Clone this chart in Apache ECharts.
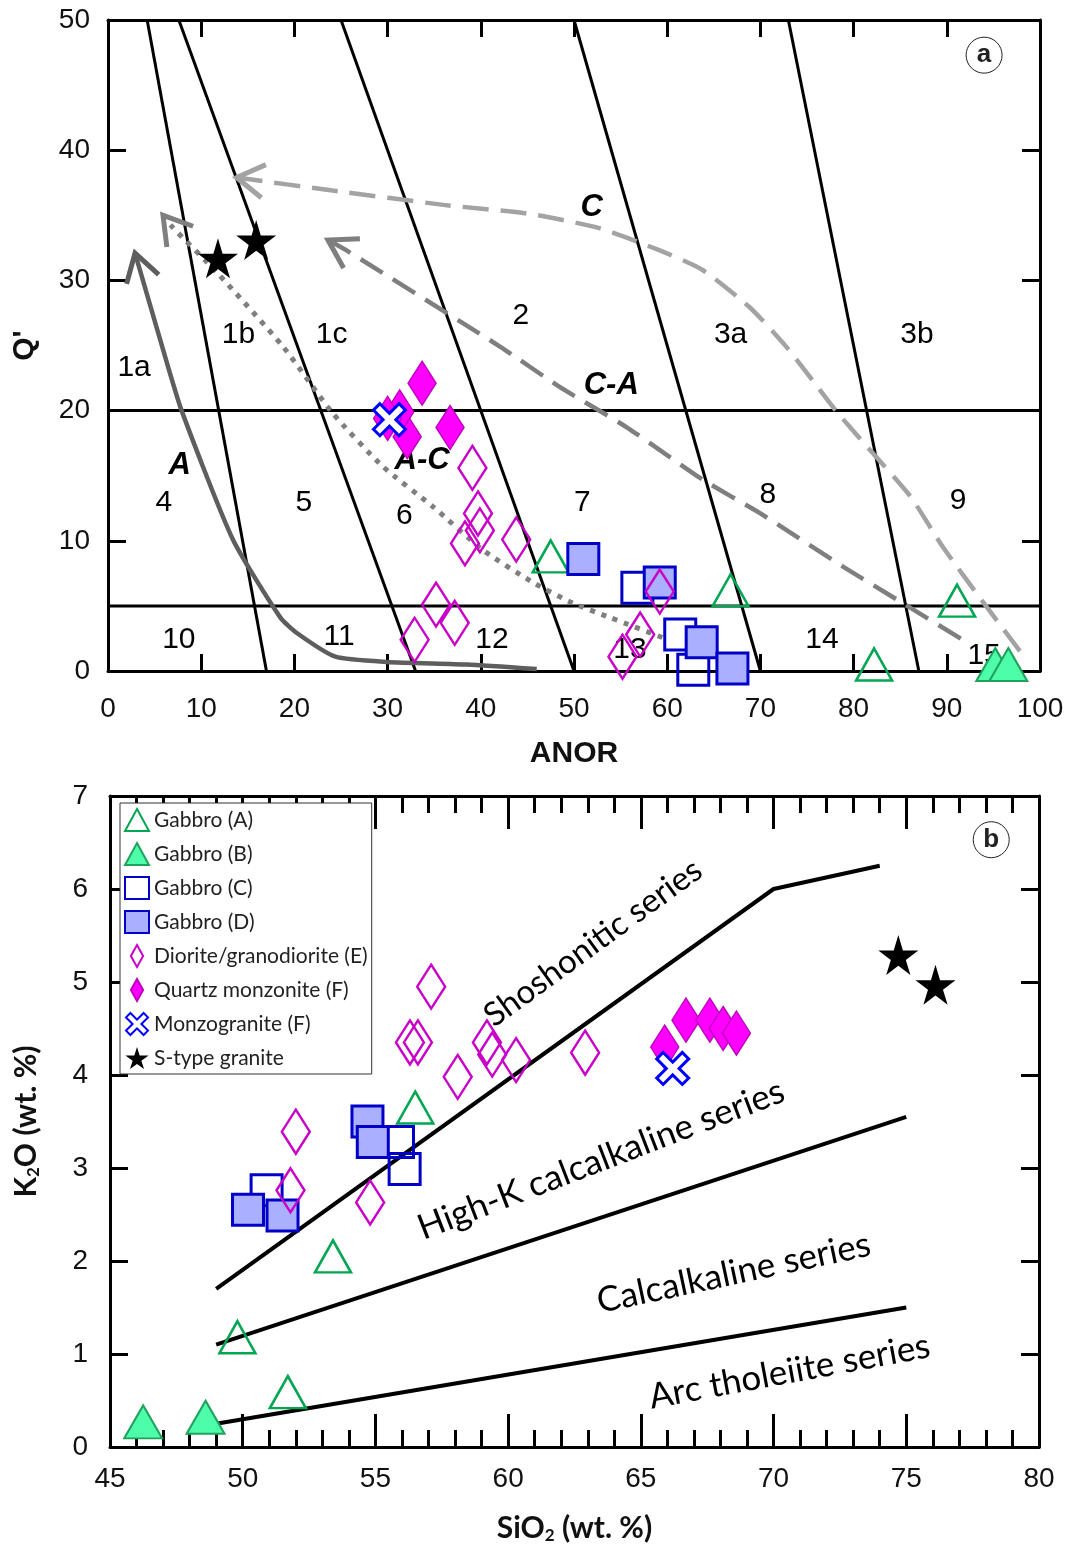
<!DOCTYPE html>
<html>
<head>
<meta charset="utf-8">
<script src="https://cdn.jsdelivr.net/npm/echarts@6/dist/echarts.min.js"></script>
<style>
  html, body { margin: 0; background: #fff; }
  #chart { width: 1071px; height: 1548px; }
</style>
</head>
<body>
<div id="chart"></div>
<script>
// ---------- panel (a): ANOR vs Q' ----------
// field boundaries (Streckeisen & Le Maitre)
const fieldLines = [
  [[4.2, 50], [17, 0]],
  [[7.6, 50], [33, 0]],
  [[25, 50], [50, 0]],
  [[50, 50], [70, 0]],
  [[73, 50], [87, 0]],
  [[0, 20], [100, 20]],
  [[0, 5], [100, 5]]
];
const fieldLabels = [
  ['1a', 2.8, 23.3], ['1b', 14, 25.8], ['1c', 24, 25.8], ['2', 44.3, 27.3],
  ['3a', 66.8, 25.8], ['3b', 86.8, 25.8], ['4', 6, 12.9], ['5', 21, 12.9],
  ['6', 31.8, 11.9], ['7', 50.9, 12.9], ['8', 70.8, 13.5], ['9', 91.2, 13.1],
  ['10', 7.6, 2.4], ['11', 24.8, 2.6], ['12', 41.2, 2.4], ['13', 56, 1.6],
  ['14', 76.6, 2.4], ['15', 94, 1.2]
];
const trendLabels = [['C', 51.9, 35.6], ['C-A', 54, 21.9], ['A', 7.7, 15.8], ['A-C', 33.7, 16.2]];

// trend curves, first point = arrow tip
const trendA = [[2.9, 32.1], [5.9, 24.7], [7.9, 20.0], [13.4, 10.1], [18.5, 4.1], [20.3, 2.9],
  [24.4, 1.1], [29.9, 0.7], [38.5, 0.5], [46.0, 0.15]];
const trendC = [[13.8, 37.9], [24.1, 36.9], [36.0, 35.8], [45.3, 35.1], [52.8, 34.0], [59.2, 32.3],
  [63.8, 30.8], [68.9, 27.9], [72.9, 24.8], [78.2, 19.9], [82.1, 16.7], [86.1, 13.4],
  [89.6, 9.5], [94.3, 4.9], [98.4, 1.0]];
const trendCA = [[23.6, 33.1], [25.6, 32.3], [42.1, 24.9], [48.5, 21.8], [55.7, 18.7], [63.8, 14.7],
  [70.0, 12.1], [78.9, 8.0], [85.3, 5.2], [91.7, 2.4]];
const trendAC = [[5.9, 35.0], [6.9, 34.1], [11.7, 30.6], [18.8, 24.9], [24.1, 19.8], [29.5, 15.7],
  [34.9, 12.6], [40.2, 9.3], [45.6, 6.8], [49.9, 5.2], [53.9, 4.1], [60.1, 2.4]];

// samples [ANOR, Q']
const aGabbroA = [[47.5, 8.8], [66.8, 6.2], [91.1, 5.4], [82.2, 0.5]];
const aGabbroB = [[95.2, 0.5], [96.6, 0.5]];
const aGabbroC = [[56.8, 6.4], [61.4, 2.8], [62.8, 0.1]];
const aGabbroD = [[51.0, 8.6], [59.2, 6.8], [63.7, 2.2], [67.0, 0.2]];
const aDiorite = [[39.1, 15.6], [39.7, 12.1], [39.9, 10.8], [38.3, 9.8], [43.8, 10.1], [35.2, 5.1],
  [37.2, 3.7], [32.9, 2.4], [59.2, 6.1], [57.1, 2.8], [55.2, 1.1]];
const aQzMonz = [[33.7, 22.1], [36.7, 18.7], [32.1, 18.0], [31.3, 19.9], [30.0, 19.4]];
const aMonzogr = [[30.2, 19.3]];
const aSType = [[11.8, 31.7], [15.9, 33.1]];

// ---------- panel (b): SiO2 vs K2O ----------
const seriesBounds = [
  [[49, 1.7], [70, 6.0], [74, 6.25]],
  [[49, 1.1], [75, 3.55]],
  [[49, 0.25], [75, 1.5]]
];
const seriesNames = [
  ['Shoshonitic series', 63.2, 5.42],
  ['High-K calcalkaline series', 63.5, 3.09],
  ['Calcalkaline series', 68.5, 1.87],
  ['Arc tholeiite series', 70.6, 0.81]
];
const seriesAngles = [36, 21, 12, 10.5];
const seriesFont = [33, 35, 35, 35];

// samples [SiO2, K2O]
const bGabbroA = [[56.5, 3.65], [53.4, 2.05], [49.8, 1.18], [51.7, 0.59]];
const bGabbroB = [[46.25, 0.27], [48.6, 0.32]];
const bGabbroC = [[50.9, 2.76], [55.85, 3.28], [56.1, 2.99]];
const bGabbroD = [[50.2, 2.55], [51.5, 2.49], [54.7, 3.5], [54.9, 3.28]];
const bDiorite = [[57.1, 4.95], [56.3, 4.35], [56.6, 4.35], [59.2, 4.35], [59.4, 4.22], [60.3, 4.16],
  [58.1, 3.98], [62.9, 4.24], [52.0, 3.39], [51.8, 2.76], [54.8, 2.63]];
const bQzMonz = [[65.9, 4.3], [66.7, 4.59], [67.6, 4.59], [68.1, 4.5], [68.6, 4.45]];
const bMonzogr = [[66.2, 4.07]];
const bSType = [[74.7, 5.29], [76.1, 4.97]];

const legendNames = ['Gabbro (A)', 'Gabbro (B)', 'Gabbro (C)', 'Gabbro (D)', 'Diorite/granodiorite (E)',
  'Quartz monzonite (F)', 'Monzogranite (F)', 'S-type granite'];

// ---------- styles ----------
const ARIAL = 'Liberation Sans';
const CALIBRI = 'Lato';
const starPath = 'path://M50,0 L61,35 L98,35 L68,57 L79,91 L50,70 L21,91 L32,57 L2,35 L39,35 Z';
const crossPath = 'path://M2,0 L5,3 L8,0 L10,2 L7,5 L10,8 L8,10 L5,7 L2,10 L0,8 L3,5 L0,2 Z';
const diamondPath = 'path://M5,0 L10,9 L5,18 L0,9 Z';

const sampleStyles = [
  { symbol: 'triangle', symbolSize: [36, 32], itemStyle: { color: 'rgba(0,0,0,0)', borderColor: '#00a651', borderWidth: 2.5 } },
  { symbol: 'triangle', symbolSize: [38, 33], itemStyle: { color: '#4dfdaa', borderColor: '#1fa35c', borderWidth: 2 } },
  { symbol: 'rect', symbolSize: 31, itemStyle: { color: 'rgba(0,0,0,0)', borderColor: '#0000c8', borderWidth: 3 } },
  { symbol: 'rect', symbolSize: 31, itemStyle: { color: '#aab0ff', borderColor: '#0000c8', borderWidth: 3 } },
  { symbol: 'diamond', symbolSize: [28, 44], itemStyle: { color: 'rgba(0,0,0,0)', borderColor: '#c800c8', borderWidth: 2.5 } },
  { symbol: 'diamond', symbolSize: [28, 44], itemStyle: { color: '#ff00ff', borderColor: '#c000c0', borderWidth: 1.5 } },
  { symbol: crossPath, symbolSize: 32, itemStyle: { color: '#fff', borderColor: '#0000ff', borderWidth: 3 } },
  { symbol: starPath, symbolSize: 40, itemStyle: { color: '#000', borderColor: '#000', borderWidth: 0 } }
];

function scatter(name, data, idx, axis) {
  const st = sampleStyles[idx];
  return {
    name: name, type: 'scatter', data: data, z: 6,
    xAxisIndex: axis, yAxisIndex: axis,
    symbol: st.symbol, symbolSize: st.symbolSize,
    itemStyle: Object.assign({ opacity: 1 }, st.itemStyle)
  };
}

function straight(data, axis, width) {
  return {
    type: 'line', data: data, xAxisIndex: axis, yAxisIndex: axis, z: 2,
    symbol: 'none', silent: true,
    lineStyle: { color: '#000', width: width }
  };
}

function trend(data, color, dash, width) {
  return {
    type: 'line', data: data, xAxisIndex: 0, yAxisIndex: 0, z: 3,
    symbol: 'none', silent: true, smooth: 0.2,
    lineStyle: { color: color, width: width, type: dash, cap: 'butt' }
  };
}

function arrowHead(pts, color) {
  return {
    type: 'custom', xAxisIndex: 0, yAxisIndex: 0, z: 3, silent: true,
    data: [[pts[0][0], pts[0][1], pts[1][0], pts[1][1]]],
    renderItem: function (params, api) {
      const tip = api.coord([api.value(0), api.value(1)]);
      const back = api.coord([api.value(2), api.value(3)]);
      const ang = Math.atan2(back[1] - tip[1], back[0] - tip[0]);
      const len = 32, spread = 0.55;
      const p1 = [tip[0] + len * Math.cos(ang + spread), tip[1] + len * Math.sin(ang + spread)];
      const p2 = [tip[0] + len * Math.cos(ang - spread), tip[1] + len * Math.sin(ang - spread)];
      return {
        type: 'polyline',
        shape: { points: [p1, tip, p2] },
        style: { stroke: color, lineWidth: 5, fill: null }
      };
    }
  };
}

function textPoints(list, axis, font) {
  return {
    type: 'scatter', xAxisIndex: axis, yAxisIndex: axis, z: 4, silent: true,
    symbolSize: 0,
    itemStyle: { opacity: 1 },
    data: list.map(d => ({ name: d[0], value: [d[1], d[2]] })),
    label: Object.assign({ show: true, position: 'inside', formatter: '{b}', color: '#000' }, font)
  };
}

function panelTag(letter, x, y, axis) {
  return {
    type: 'scatter', xAxisIndex: axis, yAxisIndex: axis, z: 7, silent: true,
    symbol: 'circle', symbolSize: 36,
    itemStyle: { color: '#fff', borderColor: '#222', borderWidth: 1, opacity: 1 },
    data: [[x, y]],
    label: { show: true, position: 'inside', formatter: letter, fontFamily: ARIAL,
      fontWeight: 'bold', fontSize: 26, color: '#222' }
  };
}

const axisLine = { show: true, onZero: false, lineStyle: { color: '#000', width: 3 } };
const tickStyle = { color: '#000', width: 3 };
const labelStyle = { fontFamily: ARIAL, fontSize: 28, color: '#111' };

const chart = echarts.init(document.getElementById('chart'), null, { renderer: 'canvas' });

const series = [];
fieldLines.forEach(l => series.push(straight(l, 0, 3)));
series.push(trend(trendA, '#5e5e5e', 'solid', 4.5));
series.push(arrowHead(trendA, '#5e5e5e'));
series.push(trend(trendC, '#a3a3a3', [26, 12], 4.5));
series.push(arrowHead(trendC, '#a3a3a3'));
series.push(trend(trendCA, '#7f7f7f', [26, 12], 4.5));
series.push(arrowHead(trendCA, '#7f7f7f'));
series.push(trend(trendAC, '#7f7f7f', [5, 7], 5));
series.push(arrowHead(trendAC, '#7f7f7f'));
series.push(textPoints(fieldLabels, 0, { fontFamily: ARIAL, fontSize: 30 }));
series.push(textPoints(trendLabels, 0, { fontFamily: ARIAL, fontSize: 31, fontWeight: 'bold', fontStyle: 'italic' }));
seriesBounds.forEach(l => series.push(straight(l, 2, 4)));
seriesNames.forEach((n, i) => {
  const s = textPoints([n], 2, { fontFamily: CALIBRI, fontSize: seriesFont[i] });
  s.label.rotate = seriesAngles[i];
  series.push(s);
});

const panelA = [aGabbroA, aGabbroB, aGabbroC, aGabbroD, aDiorite, aQzMonz, aMonzogr, aSType];
const panelB = [bGabbroA, bGabbroB, bGabbroC, bGabbroD, bDiorite, bQzMonz, bMonzogr, bSType];
legendNames.forEach((n, i) => series.push(scatter(n, panelA[i], i, 0)));
legendNames.forEach((n, i) => series.push(scatter(n, panelB[i], i, 2)));
series.push(panelTag('a', 94.0, 47.3, 0));
series.push(panelTag('b', 78.2, 6.53, 2));

const subRich = {
  a: { fontFamily: CALIBRI, fontWeight: 'bold', fontSize: 30, color: '#111' },
  s: { fontFamily: CALIBRI, fontWeight: 'bold', fontSize: 17, color: '#111', verticalAlign: 'bottom', padding: [14, 0, 0, 0] }
};

const option = {
  backgroundColor: '#fff',
  animation: false,
  grid: [
    { left: 108, top: 20, width: 932, height: 651 },
    { left: 110, top: 796, width: 929, height: 651 }
  ],
  legend: {
    orient: 'vertical', left: 120, top: 803,
    itemWidth: 24, itemHeight: 22, itemGap: 10,
    padding: [5, 4, 4, 4],
    backgroundColor: '#fff', borderColor: '#333', borderWidth: 1,
    textStyle: { fontFamily: CALIBRI, fontSize: 21, lineHeight: 24, color: '#222' },
    selectedMode: false,
    data: legendNames.map(n => n.indexOf('(E)') > 0 || n.indexOf('monzonite') > 0
      ? { name: n, icon: diamondPath } : { name: n })
  },
  xAxis: [
    { gridIndex: 0, type: 'value', min: 0, max: 100, interval: 10, position: 'bottom',
      name: 'ANOR', nameLocation: 'middle', nameGap: 68,
      nameTextStyle: { fontFamily: ARIAL, fontWeight: 'bold', fontSize: 30, color: '#111' },
      axisLine: axisLine, axisTick: { inside: true, length: 17, lineStyle: tickStyle },
      axisLabel: Object.assign({ margin: 24 }, labelStyle), splitLine: { show: false } },
    { gridIndex: 0, type: 'value', min: 0, max: 100, interval: 10, position: 'top',
      axisLine: axisLine, axisTick: { inside: true, length: 17, lineStyle: tickStyle },
      axisLabel: { show: false }, splitLine: { show: false } },
    { gridIndex: 1, type: 'value', min: 45, max: 80, interval: 5, position: 'bottom',
      name: '{a|SiO}{s|2}{a| (wt. %)}', nameLocation: 'middle', nameGap: 66,
      nameTextStyle: { rich: subRich },
      axisLine: axisLine, axisTick: { inside: true, length: 33, lineStyle: tickStyle },
      minorTick: { show: true, splitNumber: 5, length: 17, lineStyle: tickStyle },
      axisLabel: Object.assign({ margin: 18 }, labelStyle), splitLine: { show: false } },
    { gridIndex: 1, type: 'value', min: 45, max: 80, interval: 5, position: 'top',
      axisLine: axisLine, axisTick: { inside: true, length: 33, lineStyle: tickStyle },
      minorTick: { show: true, splitNumber: 5, length: 17, lineStyle: tickStyle },
      axisLabel: { show: false }, splitLine: { show: false } }
  ],
  yAxis: [
    { gridIndex: 0, type: 'value', min: 0, max: 50, interval: 10, position: 'left',
      name: "Q'", nameLocation: 'middle', nameGap: 68, nameRotate: 90,
      nameTextStyle: { fontFamily: ARIAL, fontWeight: 'bold', fontSize: 30, color: '#111' },
      axisLine: axisLine, axisTick: { inside: true, length: 18, lineStyle: tickStyle },
      axisLabel: Object.assign({ margin: 18 }, labelStyle), splitLine: { show: false } },
    { gridIndex: 0, type: 'value', min: 0, max: 50, interval: 10, position: 'right',
      axisLine: axisLine, axisTick: { inside: true, length: 18, lineStyle: tickStyle },
      axisLabel: { show: false }, splitLine: { show: false } },
    { gridIndex: 1, type: 'value', min: 0, max: 7, interval: 1, position: 'left',
      name: '{a|K}{s|2}{a|O (wt. %)}', nameLocation: 'middle', nameGap: 68, nameRotate: 90,
      nameTextStyle: { rich: subRich },
      axisLine: axisLine, axisTick: { inside: true, length: 18, lineStyle: tickStyle },
      axisLabel: Object.assign({ margin: 22 }, labelStyle), splitLine: { show: false } },
    { gridIndex: 1, type: 'value', min: 0, max: 7, interval: 1, position: 'right',
      axisLine: axisLine, axisTick: { inside: true, length: 18, lineStyle: tickStyle },
      axisLabel: { show: false }, splitLine: { show: false } }
  ],
  series: series
};

chart.setOption(option);
</script>
</body>
</html>
